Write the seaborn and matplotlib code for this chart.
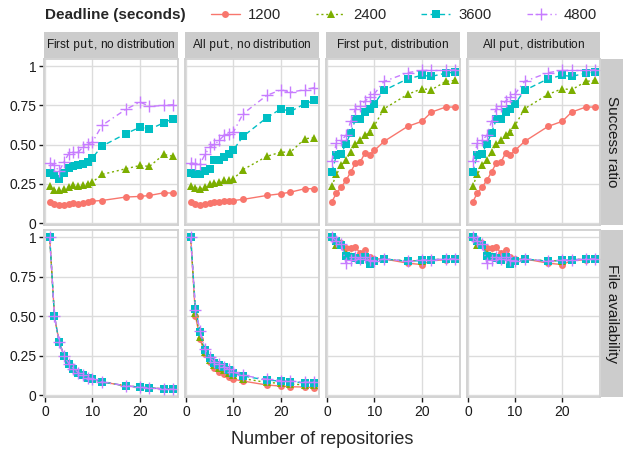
import numpy as np
import pandas as pd
import matplotlib
matplotlib.use("Agg")
import matplotlib.pyplot as plt
from matplotlib.lines import Line2D
import seaborn as sns

# x values: number of repositories
repos = [1, 2, 3, 4, 5, 6, 7, 8, 9, 10, 12, 17, 20, 22, 25, 27]
deadlines = ["1200", "2400", "3600", "4800"]
panel_names = ["First put, no distribution", "All put, no distribution",
               "First put, distribution", "All put, distribution"]
panel_titles = ["First $\\mathtt{put}$, no distribution", "All $\\mathtt{put}$, no distribution",
                "First $\\mathtt{put}$, distribution", "All $\\mathtt{put}$, distribution"]
metrics = ["Success ratio", "File availability"]

# success ratio, one dict per panel (keys = deadline)
sr_first_nodist = {
    "1200": [0.134, 0.123, 0.113, 0.117, 0.119, 0.127, 0.123, 0.130, 0.134, 0.140, 0.144, 0.166, 0.170, 0.176, 0.193, 0.191],
    "2400": [0.234, 0.212, 0.208, 0.219, 0.229, 0.240, 0.234, 0.240, 0.251, 0.261, 0.310, 0.346, 0.367, 0.361, 0.437, 0.425],
    "3600": [0.318, 0.304, 0.282, 0.318, 0.352, 0.361, 0.367, 0.378, 0.389, 0.416, 0.490, 0.569, 0.611, 0.597, 0.639, 0.665],
    "4800": [0.384, 0.367, 0.331, 0.389, 0.442, 0.452, 0.452, 0.484, 0.505, 0.516, 0.622, 0.724, 0.771, 0.743, 0.749, 0.754],
}
sr_all_nodist = {
    "1200": [0.134, 0.123, 0.117, 0.119, 0.127, 0.134, 0.134, 0.138, 0.144, 0.144, 0.151, 0.176, 0.187, 0.197, 0.219, 0.219],
    "2400": [0.234, 0.225, 0.219, 0.229, 0.246, 0.255, 0.261, 0.272, 0.276, 0.282, 0.340, 0.425, 0.452, 0.452, 0.537, 0.544],
    "3600": [0.321, 0.314, 0.310, 0.331, 0.346, 0.399, 0.403, 0.420, 0.442, 0.467, 0.552, 0.671, 0.728, 0.711, 0.760, 0.781],
    "4800": [0.384, 0.378, 0.378, 0.437, 0.484, 0.501, 0.527, 0.558, 0.569, 0.580, 0.696, 0.813, 0.849, 0.834, 0.849, 0.862],
}
sr_first_dist = {
    "1200": [0.134, 0.191, 0.229, 0.272, 0.325, 0.382, 0.389, 0.446, 0.435, 0.463, 0.520, 0.616, 0.648, 0.707, 0.739, 0.739],
    "2400": [0.234, 0.310, 0.367, 0.403, 0.452, 0.505, 0.527, 0.558, 0.580, 0.622, 0.728, 0.820, 0.856, 0.849, 0.902, 0.909],
    "3600": [0.325, 0.431, 0.442, 0.505, 0.575, 0.660, 0.660, 0.707, 0.728, 0.760, 0.845, 0.919, 0.941, 0.934, 0.955, 0.962],
    "4800": [0.393, 0.510, 0.527, 0.558, 0.648, 0.728, 0.743, 0.777, 0.803, 0.824, 0.902, 0.958, 0.972, 0.972, 0.972, 0.977],
}
sr_all_dist = {
    "1200": [0.134, 0.191, 0.229, 0.272, 0.325, 0.382, 0.389, 0.446, 0.435, 0.463, 0.520, 0.616, 0.648, 0.707, 0.739, 0.739],
    "2400": [0.234, 0.310, 0.367, 0.403, 0.452, 0.505, 0.527, 0.558, 0.580, 0.622, 0.728, 0.820, 0.856, 0.849, 0.902, 0.909],
    "3600": [0.325, 0.431, 0.442, 0.505, 0.575, 0.660, 0.660, 0.707, 0.728, 0.760, 0.845, 0.919, 0.941, 0.934, 0.955, 0.962],
    "4800": [0.393, 0.510, 0.527, 0.558, 0.648, 0.728, 0.743, 0.777, 0.803, 0.824, 0.902, 0.958, 0.972, 0.972, 0.972, 0.977],
}

# file availability
fa_first_nodist = {
    "1200": [1.0, 0.500, 0.333, 0.250, 0.200, 0.167, 0.143, 0.125, 0.111, 0.100, 0.083, 0.059, 0.050, 0.045, 0.040, 0.037],
    "2400": [1.0, 0.500, 0.333, 0.250, 0.200, 0.167, 0.143, 0.125, 0.111, 0.100, 0.083, 0.059, 0.050, 0.045, 0.040, 0.037],
    "3600": [1.0, 0.500, 0.333, 0.250, 0.200, 0.167, 0.143, 0.125, 0.111, 0.100, 0.083, 0.059, 0.050, 0.045, 0.040, 0.037],
    "4800": [1.0, 0.500, 0.333, 0.250, 0.200, 0.167, 0.143, 0.125, 0.111, 0.100, 0.083, 0.059, 0.050, 0.045, 0.040, 0.037],
}
fa_all_nodist = {
    "1200": [1.0, 0.500, 0.354, 0.258, 0.210, 0.174, 0.148, 0.136, 0.114, 0.100, 0.089, 0.064, 0.057, 0.053, 0.051, 0.047],
    "2400": [1.0, 0.520, 0.370, 0.270, 0.225, 0.190, 0.170, 0.160, 0.140, 0.125, 0.105, 0.080, 0.075, 0.070, 0.065, 0.065],
    "3600": [1.0, 0.544, 0.400, 0.284, 0.237, 0.205, 0.190, 0.178, 0.159, 0.142, 0.121, 0.095, 0.089, 0.085, 0.078, 0.078],
    "4800": [1.0, 0.540, 0.405, 0.290, 0.240, 0.210, 0.195, 0.180, 0.165, 0.145, 0.125, 0.100, 0.092, 0.088, 0.082, 0.082],
}
fa_first_dist = {
    "1200": [1.0, 0.979, 0.962, 0.932, 0.932, 0.936, 0.898, 0.919, 0.873, 0.862, 0.862, 0.835, 0.826, 0.852, 0.856, 0.862],
    "2400": [1.0, 0.953, 0.960, 0.890, 0.880, 0.875, 0.860, 0.875, 0.840, 0.850, 0.860, 0.850, 0.850, 0.856, 0.862, 0.862],
    "3600": [1.0, 0.975, 0.953, 0.883, 0.873, 0.869, 0.852, 0.873, 0.831, 0.847, 0.862, 0.847, 0.852, 0.856, 0.862, 0.862],
    "4800": [1.0, 0.975, 0.958, 0.835, 0.856, 0.873, 0.862, 0.873, 0.852, 0.847, 0.862, 0.847, 0.856, 0.856, 0.862, 0.862],
}
fa_all_dist = {
    "1200": [1.0, 0.979, 0.962, 0.932, 0.932, 0.936, 0.898, 0.919, 0.873, 0.862, 0.862, 0.835, 0.826, 0.852, 0.856, 0.862],
    "2400": [1.0, 0.953, 0.960, 0.890, 0.880, 0.875, 0.860, 0.875, 0.840, 0.850, 0.860, 0.850, 0.850, 0.856, 0.862, 0.862],
    "3600": [1.0, 0.975, 0.953, 0.883, 0.873, 0.869, 0.852, 0.873, 0.831, 0.847, 0.862, 0.847, 0.852, 0.856, 0.862, 0.862],
    "4800": [1.0, 0.975, 0.958, 0.835, 0.856, 0.873, 0.862, 0.873, 0.852, 0.847, 0.862, 0.847, 0.856, 0.856, 0.862, 0.862],
}

results = {
    "Success ratio": [sr_first_nodist, sr_all_nodist, sr_first_dist, sr_all_dist],
    "File availability": [fa_first_nodist, fa_all_nodist, fa_first_dist, fa_all_dist],
}

rows = []
for metric in metrics:
    for pname, d in zip(panel_names, results[metric]):
        for dl in deadlines:
            for x, v in zip(repos, d[dl]):
                rows.append({"metric": metric, "panel": pname, "deadline": dl, "repos": x, "value": v})
df = pd.DataFrame(rows)

sns.set_style("white")
plt.rcParams["font.family"] = ["Liberation Sans", "DejaVu Sans"]
plt.rcParams["mathtext.fontset"] = "custom"
plt.rcParams["mathtext.tt"] = "Liberation Mono"

palette = {"1200": "#F8766D", "2400": "#7CAE00", "3600": "#00BFC4", "4800": "#C77CFF"}
markers = {"1200": "o", "2400": "^", "3600": "s", "4800": "+"}
# seaborn won't mix filled and line-art markers, so plot with "P" and swap afterwards
sns_markers = {"1200": "o", "2400": "^", "3600": "s", "4800": "P"}
dashes = {"1200": "", "2400": (1.5, 2.0), "3600": (4, 2.5), "4800": (4, 2.5, 1, 2.5)}
msizes = {"1200": 5.0, "2400": 6.0, "3600": 5.5, "4800": 8.0}

W, H = 623, 451
fig = plt.figure(figsize=(W / 100, H / 100), dpi=100)

def fbox(x0, y0, x1, y1):
    # pixel box (top-left origin) -> figure fraction
    return [x0 / W, 1 - y1 / H, (x1 - x0) / W, (y1 - y0) / H]

col_x = [(44, 178), (185, 319), (326, 460), (467, 600)]
row_y = [(59, 225), (230, 397)]
border = "#D0D0D0"

for r, metric in enumerate(metrics):
    for c, pname in enumerate(panel_names):
        x0, x1 = col_x[c]
        y0, y1 = row_y[r]
        ax = fig.add_axes(fbox(x0, y0, x1, y1))
        sub = df[(df.metric == metric) & (df.panel == pname)]
        sns.lineplot(data=sub, x="repos", y="value", hue="deadline", style="deadline",
                     palette=palette, markers=sns_markers, dashes=dashes,
                     hue_order=deadlines, style_order=deadlines,
                     linewidth=1.0, legend=False, ax=ax)
        for ln, dl in zip(ax.lines, deadlines):
            ln.set_marker(markers[dl])
            ln.set_markersize(msizes[dl])
            ln.set_markeredgecolor(ln.get_color())
            ln.set_markeredgewidth(1.0 if dl == "4800" else 0)
        ax.set_xlim(-0.2, 28)
        ax.set_ylim(-0.012, 1.045)
        ax.set_xticks([0, 10, 20])
        ax.set_yticks([0, 0.25, 0.5, 0.75, 1])
        ax.set_yticklabels(["0", "0.25", "0.50", "0.75", "1"])
        ax.grid(True, color="#DCDCDC", linewidth=1.0)
        ax.set_axisbelow(True)
        for s in ax.spines.values():
            s.set_color(border)
            s.set_linewidth(1.3)
        ax.set_xlabel("")
        ax.set_ylabel("")
        ax.tick_params(axis="both", labelsize=10, colors="#1A1A1A", length=3.5, width=1.0,
                       direction="out", pad=2)
        ax.tick_params(left=(c == 0), labelleft=(c == 0), bottom=(r == 1), labelbottom=(r == 1))

        if r == 0:
            sax = fig.add_axes(fbox(x0, 32, x1, 58))
            sax.set_facecolor("#CCCCCC")
            sax.set_xticks([])
            sax.set_yticks([])
            for s in sax.spines.values():
                s.set_visible(False)
            sax.text(0.5, 0.5, panel_titles[c], ha="center", va="center", fontsize=8.6,
                     color="#1A1A1A", transform=sax.transAxes)

    y0, y1 = row_y[r]
    rax = fig.add_axes(fbox(601, y0, 623, y1))
    rax.set_facecolor("#CCCCCC")
    rax.set_xticks([])
    rax.set_yticks([])
    for s in rax.spines.values():
        s.set_visible(False)
    rax.text(0.5, 0.5, metric, ha="center", va="center", rotation=270, fontsize=11,
             color="#1A1A1A", transform=rax.transAxes)

fig.text(322 / W, 1 - 439 / H, "Number of repositories", ha="center", va="center", fontsize=13)

# legend
fig.text(45 / W, 1 - 15 / H, "Deadline (seconds)", ha="left", va="center", fontsize=11, fontweight="bold")
handles = []
for dl in deadlines:
    h = Line2D([], [], color=palette[dl], marker=markers[dl], markersize=msizes[dl],
               linewidth=1.0, markeredgecolor=palette[dl],
               markeredgewidth=1.0 if dl == "4800" else 0)
    if dashes[dl]:
        h.set_dashes(dashes[dl])
    handles.append(h)
fig.legend(handles, deadlines, loc="center left", bbox_to_anchor=(211 / W, 1 - 15 / H),
           ncol=4, frameon=False, fontsize=10.7, handlelength=1.95, handletextpad=0.54,
           columnspacing=2.35, borderpad=0, borderaxespad=0)

fig.savefig("out.png", dpi=100)
